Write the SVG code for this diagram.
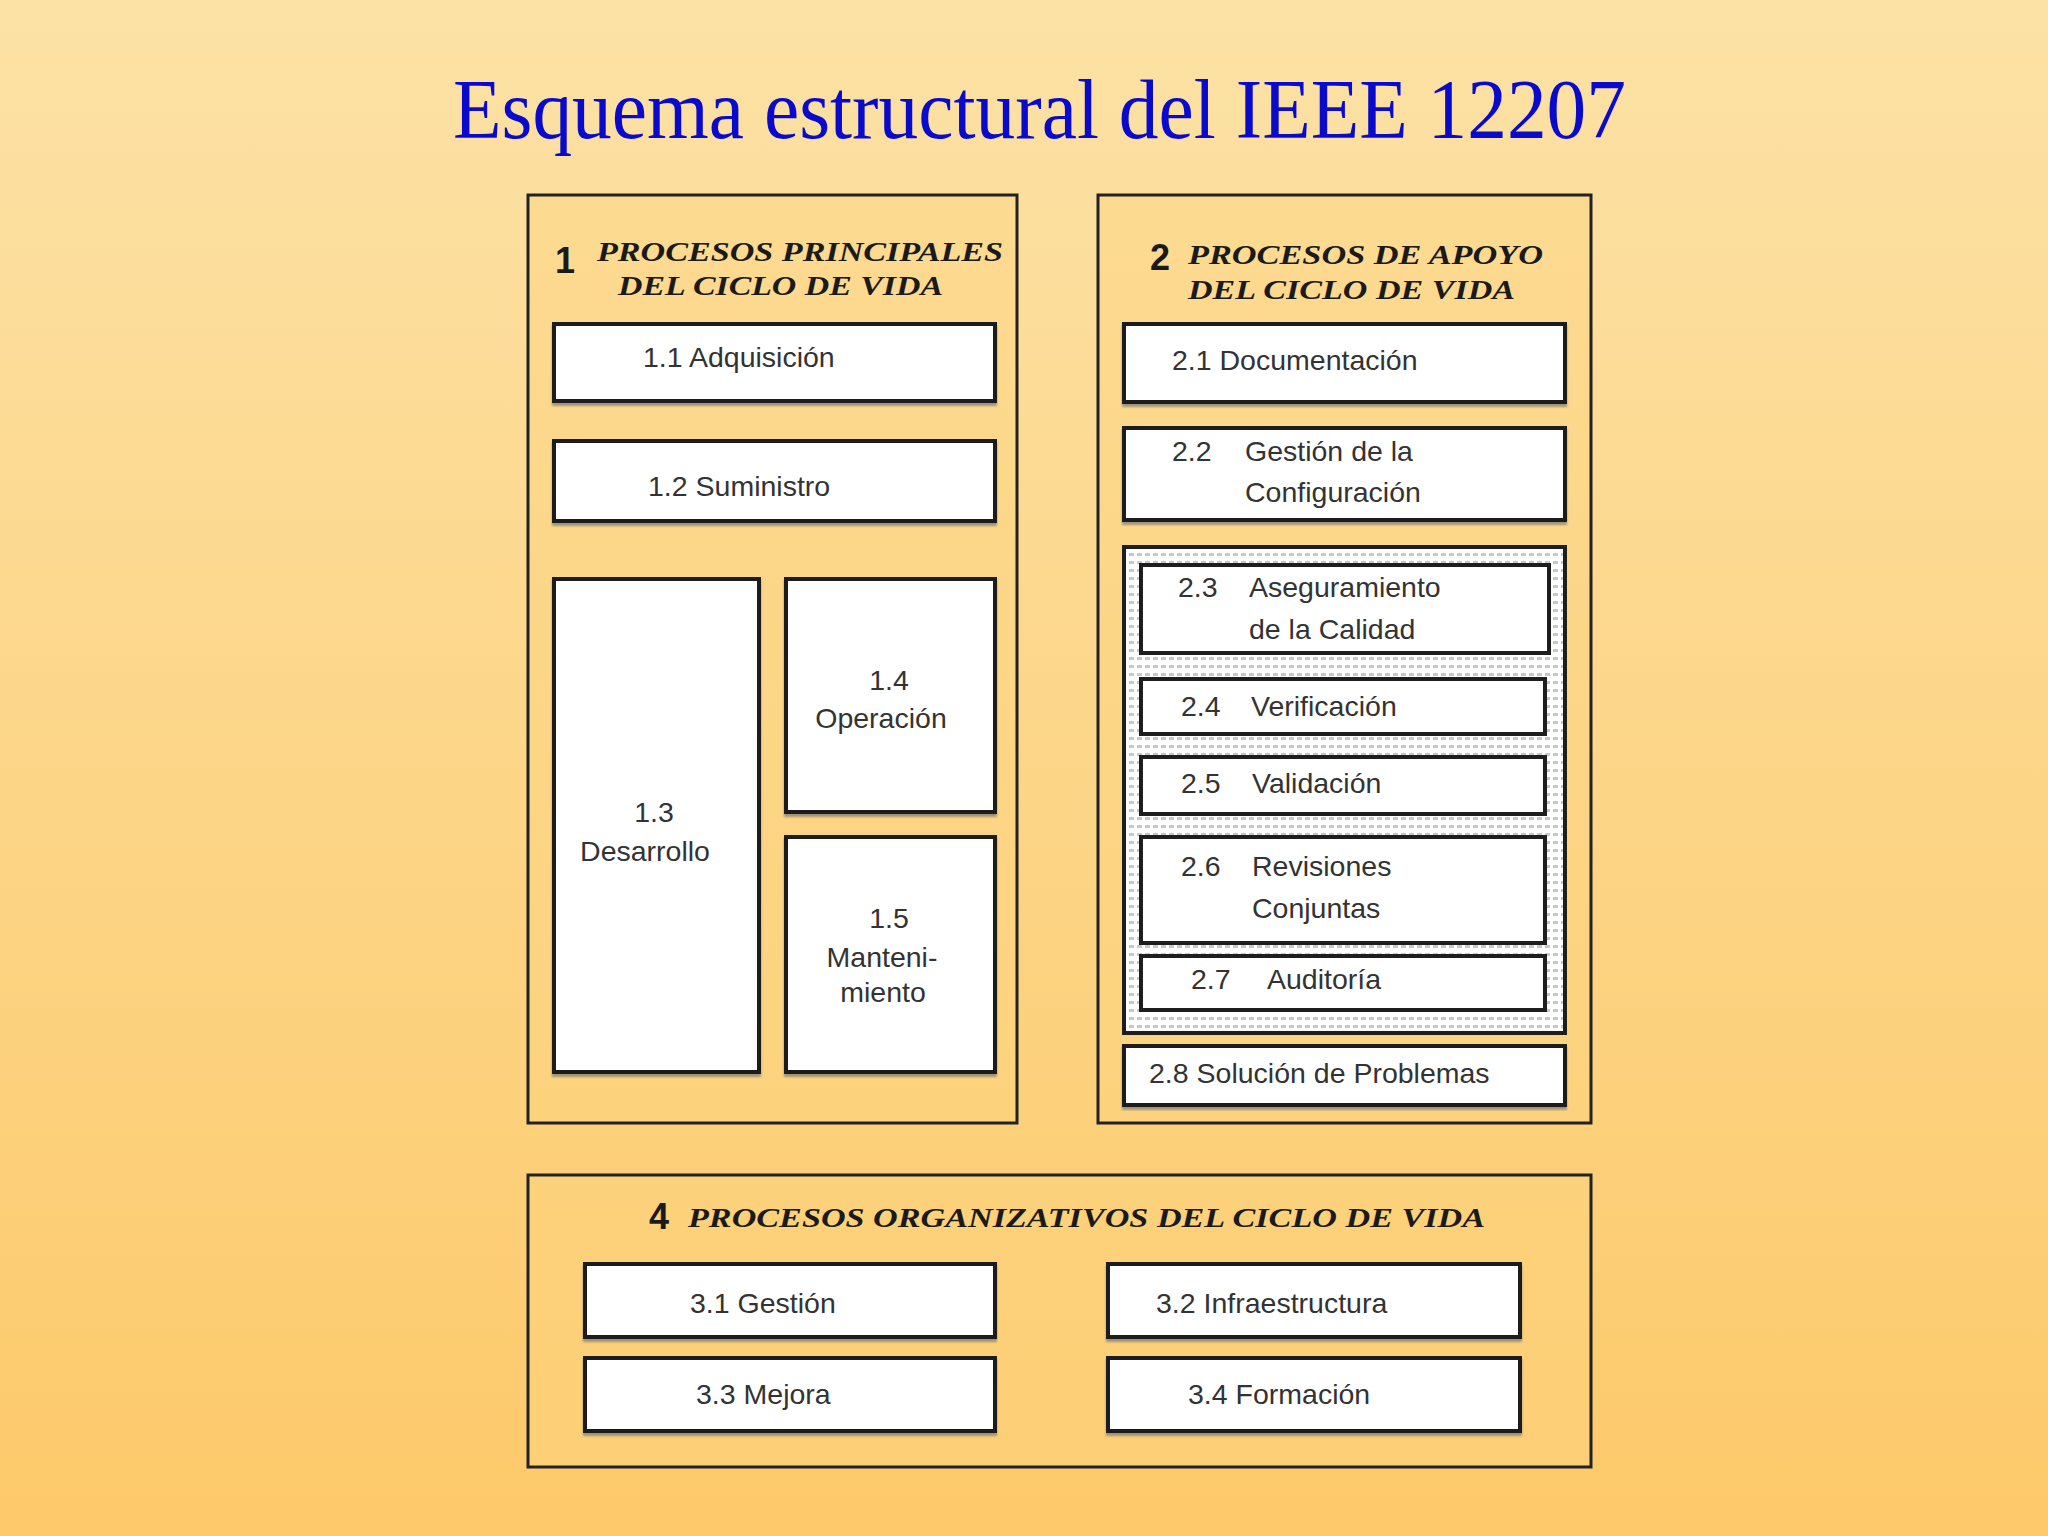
<svg xmlns="http://www.w3.org/2000/svg" width="2048" height="1536" viewBox="0 0 2048 1536">
<defs>
<linearGradient id="bg" x1="0" y1="0" x2="0" y2="1">
<stop offset="0" stop-color="#FCE2A6"/>
<stop offset="1" stop-color="#FDC96A"/>
</linearGradient>
<pattern id="dots" width="8" height="8" patternUnits="userSpaceOnUse">
<rect width="8" height="8" fill="#ffffff"/>
<rect x="1" y="1" width="5" height="3" fill="#c8c8c8"/>
</pattern>
<filter id="sh" x="-5%" y="-5%" width="110%" height="115%">
<feDropShadow dx="0" dy="3" stdDeviation="1" flood-color="#777" flood-opacity="0.7"/>
</filter>
</defs>
<style>
.title{font-family:"Liberation Serif","Times New Roman",serif;font-size:84px;fill:#0A0ACC}
.outer{fill:#FDD581;fill-opacity:0.45;stroke:#222;stroke-width:3}
.box{fill:#ffffff;stroke:#1e1e1e;stroke-width:4}
.hd{font-family:"Liberation Serif","Times New Roman",serif;font-weight:bold;font-style:italic;font-size:28px;fill:#1a1a1a}
.num{font-family:"Liberation Sans",Arial,sans-serif;font-weight:bold;font-size:36px;fill:#1a1a1a}
.t{font-family:"Liberation Sans",Arial,sans-serif;font-size:28.5px;fill:#333}
.c{text-anchor:middle}
</style>
<rect width="2048" height="1536" fill="url(#bg)"/>
<text class="title" x="453" y="138" textLength="1173" lengthAdjust="spacingAndGlyphs">Esquema estructural del IEEE 12207</text>

<g id="grupo1">
<rect class="outer" x="528" y="195" width="489" height="928"/>
<text class="num" x="555" y="273">1</text>
<text class="hd" x="597" y="261" textLength="406" lengthAdjust="spacingAndGlyphs">PROCESOS PRINCIPALES</text>
<text class="hd" x="618" y="295" textLength="325" lengthAdjust="spacingAndGlyphs">DEL CICLO DE VIDA</text>
</g>
<g id="n1-1"><rect class="box" filter="url(#sh)" x="554" y="324" width="441" height="77"/><text class="t" x="643" y="367">1.1 Adquisición</text></g>
<g id="n1-2"><rect class="box" filter="url(#sh)" x="554" y="441" width="441" height="80"/><text class="t" x="648" y="496">1.2 Suministro</text></g>
<g id="n1-3"><rect class="box" filter="url(#sh)" x="554" y="579" width="205" height="493"/><text class="t c" x="654" y="822">1.3</text><text class="t c" x="645" y="861">Desarrollo</text></g>
<g id="n1-4"><rect class="box" filter="url(#sh)" x="786" y="579" width="209" height="233"/><text class="t c" x="889" y="690">1.4</text><text class="t c" x="881" y="728">Operación</text></g>
<g id="n1-5"><rect class="box" filter="url(#sh)" x="786" y="837" width="209" height="235"/><text class="t c" x="889" y="928">1.5</text><text class="t c" x="882" y="967">Manteni-</text><text class="t c" x="883" y="1002">miento</text></g>

<g id="grupo2">
<rect class="outer" x="1098" y="195" width="493" height="928"/>
<text class="num" x="1150" y="270">2</text>
<text class="hd" x="1188" y="264" textLength="355" lengthAdjust="spacingAndGlyphs">PROCESOS DE APOYO</text>
<text class="hd" x="1188" y="299" textLength="327" lengthAdjust="spacingAndGlyphs">DEL CICLO DE VIDA</text>
</g>
<g id="n2-1"><rect class="box" filter="url(#sh)" x="1124" y="324" width="441" height="78"/><text class="t" x="1172" y="370">2.1 Documentación</text></g>
<g id="n2-2"><rect class="box" filter="url(#sh)" x="1124" y="428" width="441" height="92"/><text class="t" x="1172" y="461">2.2</text><text class="t" x="1245" y="461">Gestión de la</text><text class="t" x="1245" y="502">Configuración</text></g>
<g id="grupo2-3a2-7"><rect x="1124" y="547" width="441" height="486" fill="url(#dots)" stroke="#1e1e1e" stroke-width="4"/></g>
<g id="n2-3"><rect class="box" x="1141" y="565" width="408" height="88"/><text class="t" x="1178" y="597">2.3</text><text class="t" x="1249" y="597">Aseguramiento</text><text class="t" x="1249" y="639">de la Calidad</text></g>
<g id="n2-4"><rect class="box" x="1141" y="679" width="404" height="55"/><text class="t" x="1181" y="716">2.4</text><text class="t" x="1251" y="716">Verificación</text></g>
<g id="n2-5"><rect class="box" x="1141" y="757" width="404" height="57"/><text class="t" x="1181" y="793">2.5</text><text class="t" x="1252" y="793">Validación</text></g>
<g id="n2-6"><rect class="box" x="1141" y="837" width="404" height="106"/><text class="t" x="1181" y="876">2.6</text><text class="t" x="1252" y="876">Revisiones</text><text class="t" x="1252" y="918">Conjuntas</text></g>
<g id="n2-7"><rect class="box" x="1141" y="956" width="404" height="54"/><text class="t" x="1191" y="989">2.7</text><text class="t" x="1267" y="989">Auditoría</text></g>
<g id="n2-8"><rect class="box" filter="url(#sh)" x="1124" y="1046" width="441" height="59"/><text class="t" x="1149" y="1083">2.8 Solución de Problemas</text></g>

<g id="grupo4">
<rect class="outer" x="528" y="1175" width="1063" height="292"/>
<text class="num" x="649" y="1229">4</text>
<text class="hd" x="688" y="1227" textLength="797" lengthAdjust="spacingAndGlyphs">PROCESOS ORGANIZATIVOS DEL CICLO DE VIDA</text>
</g>
<g id="n3-1"><rect class="box" filter="url(#sh)" x="585" y="1264" width="410" height="73"/><text class="t" x="690" y="1313">3.1 Gestión</text></g>
<g id="n3-2"><rect class="box" filter="url(#sh)" x="1108" y="1264" width="412" height="73"/><text class="t" x="1156" y="1313">3.2 Infraestructura</text></g>
<g id="n3-3"><rect class="box" filter="url(#sh)" x="585" y="1358" width="410" height="73"/><text class="t" x="696" y="1404">3.3 Mejora</text></g>
<g id="n3-4"><rect class="box" filter="url(#sh)" x="1108" y="1358" width="412" height="73"/><text class="t" x="1188" y="1404">3.4 Formación</text></g>
<g id="connectors"/>
</svg>
